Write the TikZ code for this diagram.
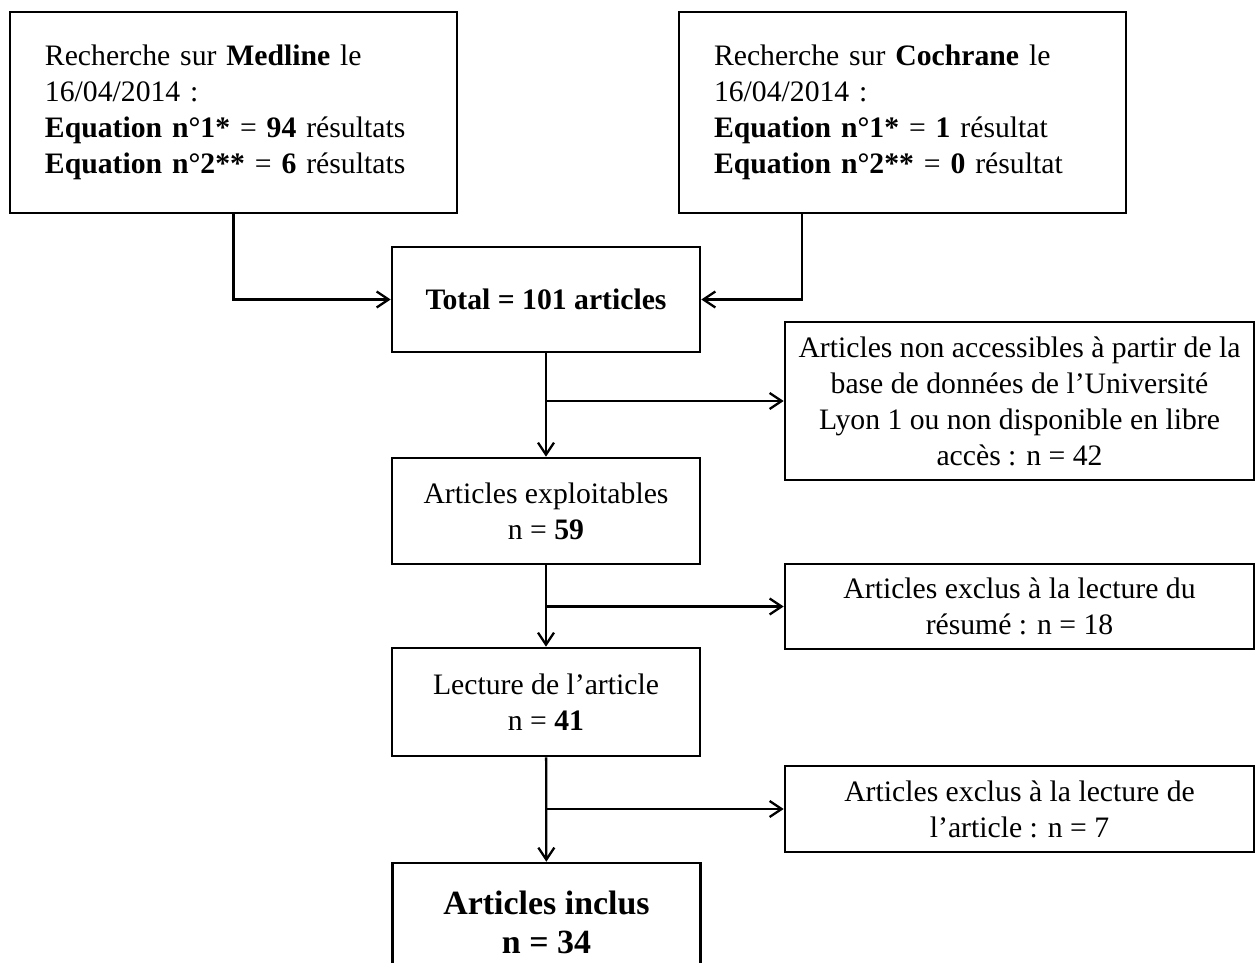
\documentclass[tikz,border=0pt]{standalone}
\usepackage{fontspec}
\setmainfont{Liberation Serif}
\usetikzlibrary{arrows.meta}

\begin{document}
\begin{tikzpicture}[x=0.2mm,y=-0.2mm,
    box/.style={draw,line width=1.5pt,inner sep=0pt,align=center,
        font=\fontsize{16.9}{20.5}\selectfont},
    srcbox/.style={box,minimum width=8.94cm,minimum height=4.02cm,text width=7.54cm,align=left},
    midbox/.style={box,minimum width=6.16cm,minimum height=2.12cm},
    sidebox/.style={box,minimum width=9.38cm},
    arr/.style={line width=1.3pt,-{Straight Barb[length=2.4mm,width=3.2mm]}}]
    \useasboundingbox (0,0) rectangle (1256,962);
    \clip (0,0) rectangle (1256,962);
    \fill[white] (0,0) rectangle (1256,962);
    \node[srcbox] (medline) at (233.5,112.5) {Recherche sur \textbf{Medline} le\\16/04/2014 :\\\textbf{Equation n°1*} = \textbf{94} résultats\\\textbf{Equation n°2**} = \textbf{6} résultats};
    \node[srcbox] (cochrane) at (902.5,112.5) {Recherche sur \textbf{Cochrane} le\\16/04/2014 :\\\textbf{Equation n°1*} = \textbf{1} résultat\\\textbf{Equation n°2**} = \textbf{0} résultat};
    \node[midbox,minimum height=2.1cm] (total) at (546,299.5) {\textbf{Total = 101 articles}};
    \node[sidebox,minimum height=3.16cm] (nonacc) at (1019.5,401) {Articles non accessibles à partir de la\\base de données de l’Université\\Lyon 1 ou non disponible en libre\\accès : n = 42};
    \node[midbox] (exploit) at (546,511) {Articles exploitables\\n = \textbf{59}};
    \node[sidebox,minimum height=1.7cm] (exclres) at (1019.5,606.5) {Articles exclus à la lecture du\\résumé : n = 18};
    \node[midbox,minimum height=2.16cm] (lecture) at (546,702) {Lecture de l’article\\n = \textbf{41}};
    \node[sidebox,minimum height=1.72cm] (exclart) at (1019.5,809) {Articles exclus à la lecture de\\l’article : n = 7};
    \node[midbox,minimum height=2.36cm,font=\bfseries\fontsize{19.3}{22.2}\selectfont] (inclus) at (546.5,922) {Articles inclus\\n = 34};
    \coordinate (cdrop) at (802,213);
    \draw[arr] (medline.south) |- (total.west);
    \draw[arr] (cdrop) |- (total.east);
    \draw[arr] (total) -- (exploit);
    \draw[arr] (total.south |- nonacc.west) -- (nonacc.west);
    \draw[arr] (exploit) -- (lecture);
    \draw[arr] (exploit.south |- exclres.west) -- (exclres.west);
    \draw[arr] (lecture) -- (inclus);
    \draw[arr] (lecture.south |- exclart.west) -- (exclart.west);
\end{tikzpicture}
\end{document}
